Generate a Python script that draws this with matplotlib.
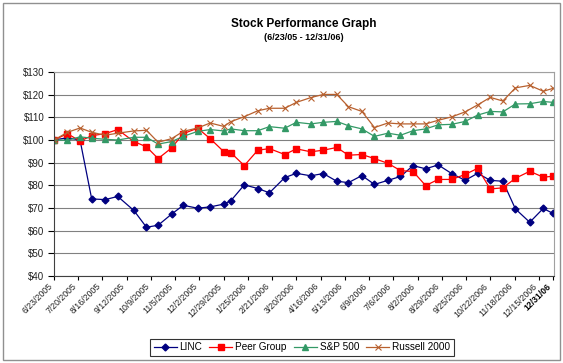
import numpy as np
import pandas as pd
import matplotlib
matplotlib.use("Agg")
import matplotlib.pyplot as plt
from matplotlib.patches import Rectangle

plt.rcParams['font.family'] = ['Liberation Sans', 'DejaVu Sans']

# days after 6/23/2005 for each data point
days = [0, 15, 29, 42, 57, 71, 89, 103, 116, 131, 144, 160, 174, 189, 197, 212, 227, 240, 257, 270,
        286, 300, 315, 328, 343, 357, 372, 386, 400, 414, 428, 443, 458, 472, 486, 500, 514, 530, 545, 556]

linc = [100, 101, 100, 74.0, 73.7, 75.1, 68.9, 61.5, 62.4, 67.3,
        71.2, 69.9, 70.5, 71.7, 73.2, 80.2, 78.6, 76.7, 83.4, 85.3,
        84.2, 85.2, 81.8, 81.2, 84.3, 80.4, 82.2, 83.9, 88.7, 87.3,
        89.0, 85.2, 82.2, 85.3, 82.2, 81.8, 69.6, 63.7, 69.8, 67.6]
peer = [100, 102.8, 99.5, 101.9, 102.8, 104.6, 99.3, 97.0, 91.8, 96.5,
        102.8, 105.2, 100.6, 94.9, 94.4, 88.7, 95.5, 96.2, 93.6, 96.1,
        94.8, 95.5, 96.7, 93.3, 93.6, 91.8, 89.7, 86.5, 86.1, 79.9,
        82.6, 82.6, 84.8, 87.5, 78.4, 78.9, 83.1, 86.2, 83.6, 84.0]
sp500 = [100, 99.9, 101.4, 100.8, 100.3, 100, 101.2, 101.2, 98.2, 99.3,
         101.6, 103.8, 104.6, 104.0, 104.9, 104.1, 104.1, 105.9, 105.2, 107.8,
         107.1, 107.8, 108.2, 106.3, 104.9, 101.6, 103.0, 102.1, 104.1, 104.9,
         106.7, 106.9, 108.2, 111.0, 112.6, 112.4, 115.9, 116.0, 117.0, 116.6]
russell = [100, 103.4, 105.3, 103.4, 102.1, 103.0, 104.0, 104.3, 99.0, 100.6,
           103.8, 105.3, 107.5, 106.0, 108.1, 110.3, 112.9, 114.0, 114.0, 116.6,
           118.7, 120.1, 120.1, 114.7, 112.6, 105.5, 107.5, 107.1, 107.1, 107.1,
           108.7, 110.2, 112.4, 115.5, 118.8, 117.2, 123.0, 124.1, 121.5, 122.8]

tick_labels = ['6/23/2005', '7/20/2005', '8/16/2005', '9/12/2005', '10/9/2005', '11/5/2005',
               '12/2/2005', '12/29/2005', '1/25/2006', '2/21/2006', '3/20/2006', '4/16/2006',
               '5/13/2006', '6/9/2006', '7/6/2006', '8/2/2006', '8/29/2006', '9/25/2006',
               '10/22/2006', '11/18/2006', '12/15/2006']
end_label = '12/31/06'

start = pd.Timestamp('2005-06-23')
dates = start + pd.to_timedelta(days, unit='D')
tick_dates = list(pd.to_datetime(tick_labels, format='%m/%d/%Y')) + [pd.Timestamp('2006-12-31')]

fig = plt.figure(figsize=(5.63, 3.63), dpi=100)
ax = fig.add_axes([54 / 563, 1 - 276 / 363, 500 / 563, 204 / 363])

ax.plot(dates, linc, color='#000080', marker='D', ms=3.5, lw=0.9, label='LINC')
ax.plot(dates, peer, color='#ff0000', marker='s', ms=4.3, lw=0.9, label='Peer Group')
ax.plot(dates, sp500, color='#339966', marker='^', ms=4.5, lw=0.9, label='S&P 500')
ax.plot(dates, russell, color='#b8602e', marker='x', ms=4.5, mew=0.8, lw=0.9, label='Russell 2000')

ax.set_ylim(40, 130)
ax.set_yticks(range(40, 131, 10))
ax.set_yticklabels(['$%d' % v for v in range(40, 131, 10)], fontsize=7, color='#222222')
ax.set_xlim(start, start + pd.Timedelta(days=557))
ax.set_xticks(tick_dates)
labels = ax.set_xticklabels(tick_labels + [end_label], rotation=45, ha='right',
                            fontsize=6.3, color='#222222')
labels[-1].set_fontweight('bold')
labels[-1].set_color('black')

ax.yaxis.grid(True, color='#808080', lw=0.8)
ax.set_axisbelow(True)
ax.tick_params(axis='y', length=4, width=0.8, pad=3)
ax.tick_params(axis='x', length=3, width=0.8, pad=1)
for s in ['left', 'bottom']:
    ax.spines[s].set_color('#404040')
    ax.spines[s].set_linewidth(0.8)
for s in ['top', 'right']:
    ax.spines[s].set_color('#a0a0a0')
    ax.spines[s].set_linewidth(0.8)

fig.text(304 / 563, 1 - 24 / 363, 'Stock Performance Graph', ha='center', va='center',
         fontsize=8.5, fontweight='bold')
fig.text(304 / 563, 1 - 37 / 363, '(6/23/05 - 12/31/06)', ha='center', va='center',
         fontsize=6.5, fontweight='bold')

leg = fig.legend(loc='center', bbox_to_anchor=(302 / 563, 1 - 347 / 363), ncol=4,
                 fontsize=7.2, frameon=True, fancybox=False, handlelength=2.3,
                 handletextpad=0.3, columnspacing=0.7, borderpad=0.35)
leg.get_frame().set_edgecolor('black')
leg.get_frame().set_linewidth(0.8)

fig.patches.append(Rectangle((3 / 563, 3 / 363), 557 / 563, 357 / 363, transform=fig.transFigure,
                             fill=False, edgecolor='#909090', lw=1))

fig.savefig('out.png', dpi=100)
